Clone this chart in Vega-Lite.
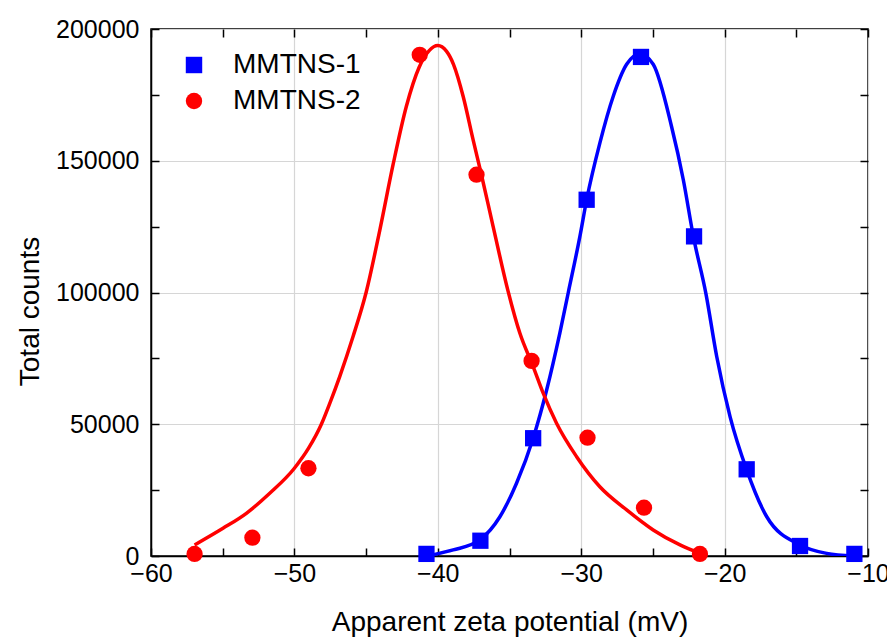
{
  "$schema": "https://vega.github.io/schema/vega-lite/v6.json",
  "width": 717,
  "height": 527,
  "autosize": {"type": "none"},
  "padding": {"left": 151, "top": 29, "right": 19, "bottom": 83},
  "background": "white",
  "config": {
    "font": "Liberation Sans",
    "view": {"stroke": "black", "strokeWidth": 1.5},
    "axis": {"labelFont": "Liberation Sans", "titleFont": "Liberation Sans", "titleFontWeight": "normal", "labelColor": "black", "titleColor": "black"},
    "legend": {"labelFont": "Liberation Sans", "labelColor": "black"}
  },
  "datasets": {
    "pts": [
      {"series": "MMTNS-1", "x": -40.79, "y": 800},
      {"series": "MMTNS-1", "x": -37.03, "y": 5800},
      {"series": "MMTNS-1", "x": -33.35, "y": 44700},
      {"series": "MMTNS-1", "x": -29.62, "y": 135200},
      {"series": "MMTNS-1", "x": -25.83, "y": 189400},
      {"series": "MMTNS-1", "x": -22.13, "y": 121300},
      {"series": "MMTNS-1", "x": -18.46, "y": 32900},
      {"series": "MMTNS-1", "x": -14.74, "y": 3800},
      {"series": "MMTNS-1", "x": -10.95, "y": 800},
      {"series": "MMTNS-2", "x": -56.96, "y": 800},
      {"series": "MMTNS-2", "x": -52.93, "y": 6950},
      {"series": "MMTNS-2", "x": -49.02, "y": 33300},
      {"series": "MMTNS-2", "x": -41.26, "y": 190200},
      {"series": "MMTNS-2", "x": -37.30, "y": 144700},
      {"series": "MMTNS-2", "x": -33.46, "y": 74050},
      {"series": "MMTNS-2", "x": -29.56, "y": 44900},
      {"series": "MMTNS-2", "x": -25.62, "y": 18350},
      {"series": "MMTNS-2", "x": -21.72, "y": 800}
    ],
    "fit": [
      {"series": "MMTNS-2", "x": -56.96, "y": 4200},
      {"series": "MMTNS-2", "x": -54.98, "y": 10500},
      {"series": "MMTNS-2", "x": -53.35, "y": 16200},
      {"series": "MMTNS-2", "x": -51.72, "y": 23800},
      {"series": "MMTNS-2", "x": -50.0, "y": 33300},
      {"series": "MMTNS-2", "x": -49.0, "y": 41000},
      {"series": "MMTNS-2", "x": -48.12, "y": 50000},
      {"series": "MMTNS-2", "x": -47.5, "y": 58400},
      {"series": "MMTNS-2", "x": -46.84, "y": 68100},
      {"series": "MMTNS-2", "x": -45.91, "y": 83300},
      {"series": "MMTNS-2", "x": -45.0, "y": 100000},
      {"series": "MMTNS-2", "x": -44.05, "y": 123500},
      {"series": "MMTNS-2", "x": -43.12, "y": 148500},
      {"series": "MMTNS-2", "x": -42.2, "y": 170500},
      {"series": "MMTNS-2", "x": -41.3, "y": 185500},
      {"series": "MMTNS-2", "x": -40.6, "y": 191800},
      {"series": "MMTNS-2", "x": -40.0, "y": 193700},
      {"series": "MMTNS-2", "x": -39.4, "y": 191600},
      {"series": "MMTNS-2", "x": -38.9, "y": 186500},
      {"series": "MMTNS-2", "x": -38.23, "y": 174400},
      {"series": "MMTNS-2", "x": -37.54, "y": 158000},
      {"series": "MMTNS-2", "x": -36.95, "y": 144500},
      {"series": "MMTNS-2", "x": -36.14, "y": 125000},
      {"series": "MMTNS-2", "x": -35.1, "y": 100500},
      {"series": "MMTNS-2", "x": -34.28, "y": 84600},
      {"series": "MMTNS-2", "x": -33.35, "y": 71900},
      {"series": "MMTNS-2", "x": -32.65, "y": 61800},
      {"series": "MMTNS-2", "x": -31.72, "y": 50400},
      {"series": "MMTNS-2", "x": -30.32, "y": 37700},
      {"series": "MMTNS-2", "x": -28.7, "y": 26300},
      {"series": "MMTNS-2", "x": -26.83, "y": 17500},
      {"series": "MMTNS-2", "x": -24.98, "y": 9900},
      {"series": "MMTNS-2", "x": -23.11, "y": 4200},
      {"series": "MMTNS-2", "x": -21.72, "y": 1000},
      {"series": "MMTNS-1", "x": -40.79, "y": 0},
      {"series": "MMTNS-1", "x": -38.93, "y": 2300},
      {"series": "MMTNS-1", "x": -37.07, "y": 6100},
      {"series": "MMTNS-1", "x": -35.67, "y": 14900},
      {"series": "MMTNS-1", "x": -34.51, "y": 27600},
      {"series": "MMTNS-1", "x": -33.35, "y": 44700},
      {"series": "MMTNS-1", "x": -32.41, "y": 63000},
      {"series": "MMTNS-1", "x": -31.49, "y": 84600},
      {"series": "MMTNS-1", "x": -30.9, "y": 100000},
      {"series": "MMTNS-1", "x": -30.09, "y": 121300},
      {"series": "MMTNS-1", "x": -29.62, "y": 135200},
      {"series": "MMTNS-1", "x": -28.7, "y": 156700},
      {"series": "MMTNS-1", "x": -27.77, "y": 174400},
      {"series": "MMTNS-1", "x": -26.83, "y": 186600},
      {"series": "MMTNS-1", "x": -25.9, "y": 190500},
      {"series": "MMTNS-1", "x": -24.98, "y": 186600},
      {"series": "MMTNS-1", "x": -23.7, "y": 163000},
      {"series": "MMTNS-1", "x": -22.88, "y": 142800},
      {"series": "MMTNS-1", "x": -22.18, "y": 121300},
      {"series": "MMTNS-1", "x": -21.3, "y": 99500},
      {"series": "MMTNS-1", "x": -20.55, "y": 75700},
      {"series": "MMTNS-1", "x": -19.62, "y": 52900},
      {"series": "MMTNS-1", "x": -18.46, "y": 32700},
      {"series": "MMTNS-1", "x": -17.06, "y": 14900},
      {"series": "MMTNS-1", "x": -14.74, "y": 4200},
      {"series": "MMTNS-1", "x": -12.88, "y": 1000},
      {"series": "MMTNS-1", "x": -11.02, "y": 0}
    ]
  },
  "layer": [
    {
      "data": {"name": "fit"},
      "transform": [{"filter": "datum.series === 'MMTNS-1'"}],
      "mark": {"type": "line", "interpolate": "monotone", "strokeWidth": 3.5, "color": "#0000ff", "clip": true},
      "encoding": {
        "x": {"field": "x", "type": "quantitative", "scale": {"domain": [-60, -10], "nice": false, "zero": false},
          "axis": {"orient": "top", "values": [-60,-55,-50,-45,-40,-35,-30,-25,-20,-15,-10], "labels": false, "grid": false, "domain": false, "tickSize": -8, "tickColor": "black", "tickWidth": 1.5, "title": null}},
        "y": {"field": "y", "type": "quantitative", "scale": {"domain": [0, 200000], "nice": false},
          "axis": {"orient": "right", "values": [0,25000,50000,75000,100000,125000,150000,175000,200000], "labels": false, "grid": false, "domain": false, "tickSize": -8, "tickColor": "black", "tickWidth": 1.5, "title": null}}
      }
    },
    {
      "data": {"name": "fit"},
      "transform": [{"filter": "datum.series === 'MMTNS-2'"}],
      "mark": {"type": "line", "interpolate": "monotone", "strokeWidth": 3.5, "color": "#ff0000", "clip": true},
      "encoding": {
        "x": {"field": "x", "type": "quantitative", "axis": null},
        "y": {"field": "y", "type": "quantitative", "axis": null}
      }
    },
    {
      "data": {"name": "pts"},
      "mark": {"type": "point", "filled": true, "opacity": 1, "size": 265},
      "encoding": {
        "x": {"field": "x", "type": "quantitative",
          "axis": {"orient": "bottom", "values": [-60,-55,-50,-45,-40,-35,-30,-25,-20,-15,-10],
            "labelExpr": "datum.value % 10 === 0 ? datum.label : ''",
            "labelFontSize": 25, "labelPadding": 13, "labelFlush": false,
            "grid": true, "gridColor": "#d6d6d6", "gridWidth": 1.2,
            "gridOpacity": {"condition": {"test": "datum.value % 10 !== 0", "value": 0}, "value": 1},
            "domain": true, "domainColor": "black", "domainWidth": 1.5,
            "tickSize": -8, "tickColor": "black", "tickWidth": 1.5,
            "title": "Apparent zeta potential (mV)", "titleFontSize": 28, "titleBaseline": "middle", "titleY": 66}},
        "y": {"field": "y", "type": "quantitative",
          "axis": {"orient": "left", "values": [0,25000,50000,75000,100000,125000,150000,175000,200000],
            "format": "d",
            "labelExpr": "datum.value % 50000 === 0 ? datum.label : ''",
            "labelFontSize": 25, "labelPadding": 20, "labelFlush": false,
            "grid": true, "gridColor": "#d6d6d6", "gridWidth": 1.2,
            "gridOpacity": {"condition": {"test": "datum.value % 50000 !== 0", "value": 0}, "value": 1},
            "domain": true, "domainColor": "black", "domainWidth": 1.5,
            "tickSize": -8, "tickColor": "black", "tickWidth": 1.5,
            "title": "Total counts", "titleFontSize": 28, "titleBaseline": "middle", "titleAngle": -90, "titleX": -121, "titleY": 282}},
        "color": {"field": "series", "type": "nominal", "scale": {"domain": ["MMTNS-1", "MMTNS-2"], "range": ["#0000ff", "#ff0000"]},
          "legend": {"title": null, "orient": "none", "legendX": 29, "legendY": 22, "labelFontSize": 28, "symbolSize": 270, "labelOffset": 25, "rowPadding": 8, "padding": 0}},
        "shape": {"field": "series", "type": "nominal", "scale": {"domain": ["MMTNS-1", "MMTNS-2"], "range": ["square", "circle"]}}
      }
    }
  ],
  "resolve": {"axis": {"x": "independent", "y": "independent"}}
}
